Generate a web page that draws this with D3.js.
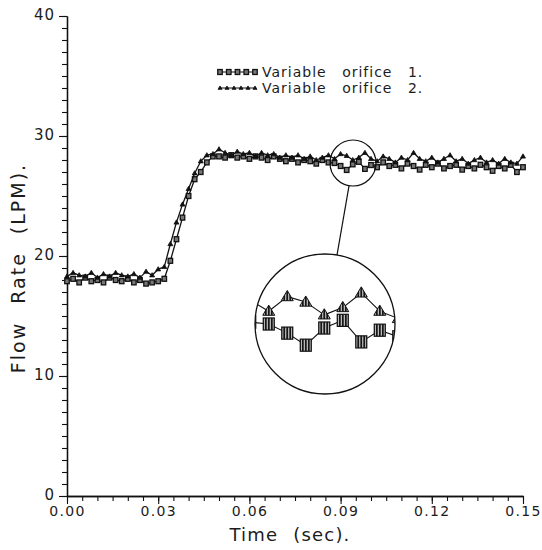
<!DOCTYPE html>
<html>
<head>
<meta charset="utf-8">
<script src="https://cdn.jsdelivr.net/npm/d3@7"></script>
<style>
  body { margin: 0; background: #fff; }
  svg { display: block; }
  text { font-family: "DejaVu Sans", sans-serif; fill: #1c1c1c; }
</style>
</head>
<body>
<svg id="chart" width="542" height="550"></svg>
<script>
// Flow rate (LPM) sampled every 2 ms for the two variable orifices
const timeStep = 0.002;
const orifice1 = [
  17.9, 18.1, 17.8, 18.2, 17.9, 18.0, 17.8, 18.2, 18.0, 17.9,
  18.1, 17.8, 18.0, 17.7, 17.8, 17.9, 18.1, 19.6, 21.4, 23.2,
  25.0, 26.4, 27.0, 27.8, 28.3, 28.3, 28.2, 28.4, 28.2, 28.3,
  28.1, 28.3, 28.2, 28.0, 28.3, 28.1, 27.9, 28.1, 27.8, 28.0,
  27.9, 27.7, 28.0, 27.8, 27.75, 27.5, 27.17, 27.64, 27.85, 27.26,
  27.58, 27.4, 27.8, 27.5, 27.6, 27.3, 27.7, 27.5, 27.2, 27.6,
  27.4, 27.7, 27.3, 27.5, 27.6, 27.2, 27.5, 27.3, 27.6, 27.4,
  27.1, 27.5, 27.3, 27.6, 27.0, 27.4
];
const orifice2 = [
  18.3, 18.6, 18.4, 18.3, 18.6, 18.2, 18.5, 18.3, 18.6, 18.4,
  18.3, 18.5, 18.2, 18.7, 18.4, 18.9, 19.1, 21.0, 22.8, 24.3,
  25.6, 26.9, 27.9, 28.4, 28.5, 28.9, 28.6, 28.4, 28.7, 28.5,
  28.6, 28.3, 28.6, 28.4, 28.5, 28.2, 28.4, 28.2, 28.4, 28.1,
  28.3, 28.0, 28.2, 28.4, 28.1, 28.5, 28.35, 28.0, 28.2, 28.6,
  28.1, 27.9, 28.3, 28.1, 27.8, 28.2, 28.0, 28.6, 28.1, 27.9,
  28.2, 27.8, 28.1, 28.4, 27.9, 28.1, 27.7, 28.0, 28.2, 27.8,
  28.0, 27.7, 28.1, 27.8, 27.7, 28.3
];
const seriesNames = ["Variable orifice 1.", "Variable orifice 2."];
const xTicks = [0, 0.03, 0.06, 0.09, 0.12, 0.15];
const yTicks = [0, 10, 20, 30, 40];
const xLabel = "Time (sec).";
const yLabel = "Flow Rate (LPM).";

const time = orifice1.map((_, i) => i * timeStep);
const series = [
  { name: seriesNames[0], values: orifice1, marker: "square" },
  { name: seriesNames[1], values: orifice2, marker: "triangle" }
];

const svg = d3.select("#chart");
const x = d3.scaleLinear().domain([0, 0.15]).range([67, 523]);
const y = d3.scaleLinear().domain([0, 40]).range([496, 16]);

// ---- axes (left and bottom only) ----
function styleAxis(g) {
  g.select(".domain").attr("stroke", "#111").attr("stroke-width", 1.3);
  g.selectAll(".tick line").attr("stroke", "#111").attr("stroke-width", 1.1);
  g.selectAll("text").attr("fill", "#1c1c1c")
    .style("font-family", '"DejaVu Sans", sans-serif');
}

svg.append("g").attr("transform", `translate(${x(0)},0)`)
  .call(d3.axisLeft(y).tickValues(d3.range(0, 41, 1)).tickSize(5).tickSizeOuter(0).tickFormat(""))
  .call(styleAxis);
svg.append("g").attr("transform", `translate(${x(0)},0)`)
  .call(d3.axisLeft(y).tickValues(yTicks).tickSize(8).tickSizeOuter(0).tickPadding(4).tickFormat(d3.format("d")))
  .call(styleAxis)
  .call(g => g.selectAll("text").style("font-size", "15px").attr("letter-spacing", "1px").attr("dy", "0.25em"));

svg.append("g").attr("transform", `translate(0,${y(0)})`)
  .call(d3.axisBottom(x).tickValues(d3.range(0, 31).map(i => i * 0.005)).tickSize(5).tickSizeOuter(0).tickFormat(""))
  .call(styleAxis);
svg.append("g").attr("transform", `translate(0,${y(0)})`)
  .call(d3.axisBottom(x).tickValues(xTicks).tickSize(8).tickSizeOuter(0).tickPadding(2).tickFormat(d3.format(".2f")))
  .call(styleAxis)
  .call(g => g.selectAll("text").style("font-size", "14px").attr("letter-spacing", "1.3px"));

svg.append("text")
  .attr("x", (x(0) + x(0.15)) / 2 - 5).attr("y", 541)
  .attr("text-anchor", "middle")
  .style("font-size", "18px").attr("word-spacing", "8px").attr("letter-spacing", "1.2px")
  .text(xLabel);

svg.append("text")
  .attr("transform", `translate(25,${y(20) + 12}) rotate(-90)`)
  .attr("text-anchor", "middle")
  .style("font-size", "19px").attr("word-spacing", "10px").attr("letter-spacing", "2px")
  .text(yLabel);

// ---- markers ----
const defs = svg.append("defs");
const hatch = defs.append("pattern").attr("id", "hatch")
  .attr("patternUnits", "userSpaceOnUse").attr("width", 3).attr("height", 3);
hatch.append("rect").attr("width", 3).attr("height", 3).attr("fill", "#151515");
hatch.append("rect").attr("x", 1).attr("width", 1).attr("height", 3).attr("fill", "#e8e8e8");

function drawMarker(sel, kind, s, big) {
  if (kind === "square") {
    sel.append("rect")
      .attr("x", -s / 2).attr("y", -s * 0.55).attr("width", s).attr("height", s * 1.1)
      .attr("fill", big ? "url(#hatch)" : "#777").attr("stroke", "#111")
      .attr("stroke-width", big ? 1.2 : 1.3);
  } else {
    const h = s * 0.85;
    sel.append("path")
      .attr("d", `M0,${-h * 0.6}L${s / 2},${h * 0.4}L${-s / 2},${h * 0.4}Z`)
      .attr("fill", big ? "url(#hatch)" : "#111").attr("stroke", "#111")
      .attr("stroke-width", big ? 1 : 0.8);
  }
}

function drawSeries(g, xs, ys, s, markerSize, big, lineWidth) {
  const line = d3.line().x((d, i) => xs(time[i])).y(d => ys(d));
  g.append("path").datum(s.values).attr("d", line)
    .attr("fill", "none").attr("stroke", "#111").attr("stroke-width", lineWidth)
    .attr("stroke-linejoin", "round");
  g.selectAll(null).data(s.values).join("g")
    .attr("transform", (d, i) => `translate(${xs(time[i])},${ys(d)})`)
    .each(function () { drawMarker(d3.select(this), s.marker, markerSize, big); });
}

const plot = svg.append("g");
series.forEach(s => drawSeries(plot, x, y, s, s.marker === "square" ? 4.5 : 5, false, 1.3));

// ---- legend ----
const legend = svg.append("g");
series.forEach((s, k) => {
  const ly = 72 + k * 16;
  legend.append("line").attr("x1", 219).attr("x2", 256).attr("y1", ly).attr("y2", ly)
    .attr("stroke", "#111").attr("stroke-width", 1.2);
  const n = s.marker === "square" ? 5 : 6;
  d3.range(n).forEach(j => {
    const mx = 220 + j * (35 / (n - 1));
    drawMarker(legend.append("g").attr("transform", `translate(${mx},${ly})`),
      s.marker, s.marker === "square" ? 4.5 : 4, false);
  });
  legend.append("text").attr("x", 262).attr("y", ly + 5)
    .style("font-size", "14px").attr("word-spacing", "10px").attr("letter-spacing", "1px")
    .text(s.name);
});

// ---- magnifier: small circle on the plateau and enlarged view ----
const lens = { sx: 353, sy: 163, sr: 23, cx: 325, cy: 324, r: 70 };
const mag = lens.r / lens.sr;
const xIn = d3.scaleLinear().domain(x.domain()).range(x.range().map(v => lens.cx + mag * (v - lens.sx)));
const yIn = d3.scaleLinear().domain(y.domain()).range(y.range().map(v => lens.cy + mag * (v - lens.sy)));

svg.append("circle").attr("cx", lens.sx).attr("cy", lens.sy).attr("r", lens.sr)
  .attr("fill", "none").attr("stroke", "#111").attr("stroke-width", 1.2);

const dx = lens.cx - lens.sx, dy = lens.cy - lens.sy, dl = Math.hypot(dx, dy);
svg.append("line")
  .attr("x1", lens.sx + lens.sr * dx / dl).attr("y1", lens.sy + lens.sr * dy / dl)
  .attr("x2", lens.cx - lens.r * dx / dl).attr("y2", lens.cy - lens.r * dy / dl)
  .attr("stroke", "#111").attr("stroke-width", 1.2);

defs.append("clipPath").attr("id", "lensClip")
  .append("circle").attr("cx", lens.cx).attr("cy", lens.cy).attr("r", lens.r);

svg.append("circle").attr("cx", lens.cx).attr("cy", lens.cy).attr("r", lens.r)
  .attr("fill", "#fff").attr("stroke", "none");
const inset = svg.append("g").attr("clip-path", "url(#lensClip)");
series.forEach(s => drawSeries(inset, xIn, yIn, s, s.marker === "square" ? 11 : 12, true, 1.1));
svg.append("circle").attr("cx", lens.cx).attr("cy", lens.cy).attr("r", lens.r)
  .attr("fill", "none").attr("stroke", "#111").attr("stroke-width", 1.3);
</script>
</body>
</html>
